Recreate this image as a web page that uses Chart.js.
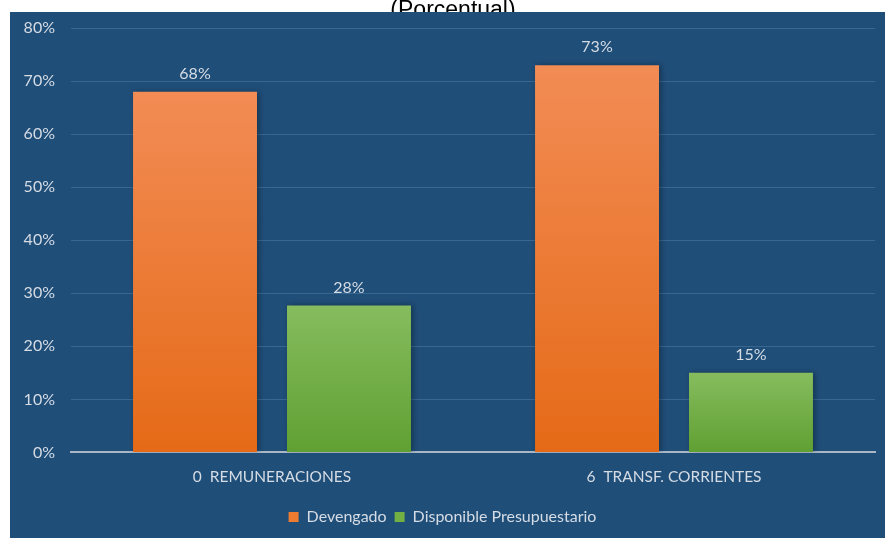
<!DOCTYPE html>
<html lang="es">
<head>
<meta charset="UTF-8">
<title>Devengado vs Disponible (Porcentual)</title>
<script src="https://cdn.jsdelivr.net/npm/chart.js"></script>
<style>
  html, body { margin: 0; padding: 0; background: #fff; }
  #wrap { width: 885px; height: 538px; }
</style>
</head>
<body>
<div id="wrap"><canvas id="chart" width="885" height="538"></canvas></div>
<script>
// data
const categories = ['0  REMUNERACIONES', '6  TRANSF. CORRIENTES'];
const devengado = [68, 73];
const disponible = [27.7, 15];
const seriesNames = ['Devengado', 'Disponible Presupuestario'];
const yTicks = [0, 10, 20, 30, 40, 50, 60, 70, 80];

const txt = '#D6DCE4';
const font = 'Lato, "Open Sans", sans-serif';

// per-bar vertical gradient (lighter at top)
function barGradient(top, bottom) {
  return function (c) {
    const chart = c.chart;
    if (!chart.chartArea || c.type !== 'data') return bottom;
    const y = chart.scales.y;
    const y0 = y.getPixelForValue(0);
    const y1 = y.getPixelForValue(c.raw);
    const g = chart.ctx.createLinearGradient(0, y1, 0, y0);
    g.addColorStop(0, top);
    g.addColorStop(1, bottom);
    return g;
  };
}

// white strip, cut-off subtitle, dark panel
const panel = {
  id: 'panel',
  beforeDraw(chart) {
    const ctx = chart.ctx;
    ctx.save();
    ctx.fillStyle = '#fff';
    ctx.fillRect(0, 0, chart.width, chart.height);
    ctx.fillStyle = '#000';
    ctx.font = '23px "Liberation Sans", Arial, sans-serif';
    ctx.textAlign = 'center';
    ctx.textBaseline = 'alphabetic';
    ctx.fillText('(Porcentual)', 453, 17);
    ctx.fillStyle = '#1F4E79';
    ctx.fillRect(10, 12, chart.width - 10, chart.height - 12);
    ctx.restore();
  }
};

// soft shadow behind bars
const shadow = {
  id: 'shadow',
  beforeDatasetsDraw(chart) {
    const ctx = chart.ctx;
    ctx.save();
    ctx.shadowColor = 'rgba(0,0,0,0.35)';
    ctx.shadowBlur = 6;
    ctx.shadowOffsetX = 2;
    ctx.shadowOffsetY = 0;
  },
  afterDatasetsDraw(chart) {
    chart.ctx.restore();
  }
};

// value labels above bars
const valueLabels = {
  id: 'valueLabels',
  afterDatasetsDraw(chart) {
    const ctx = chart.ctx;
    ctx.save();
    ctx.fillStyle = txt;
    ctx.font = '16px ' + font;
    ctx.textAlign = 'center';
    ctx.textBaseline = 'middle';
    chart.data.datasets.forEach((ds, i) => {
      chart.getDatasetMeta(i).data.forEach((bar, j) => {
        ctx.fillText(Math.round(ds.data[j]) + '%', bar.x, bar.y - 18);
      });
    });
    ctx.restore();
  }
};

new Chart(document.getElementById('chart'), {
  type: 'bar',
  data: {
    labels: categories,
    datasets: [
      {
        label: seriesNames[0],
        data: devengado,
        backgroundColor: barGradient('#F28C55', '#E56A17'),
        borderWidth: 0
      },
      {
        label: seriesNames[1],
        data: disponible,
        backgroundColor: barGradient('#86BC5E', '#60A032'),
        borderWidth: 0
      }
    ]
  },
  options: {
    responsive: false,
    animation: false,
    categoryPercentage: 0.766,
    barPercentage: 0.805,
    layout: { padding: { left: 10, right: 10, top: 28, bottom: 3 } },
    scales: {
      x: {
        grid: { display: false, drawTicks: false },
        border: { color: '#A9B7C6', width: 2 },
        ticks: { color: txt, font: { family: font, size: 15.5 }, padding: 15 }
      },
      y: {
        min: 0,
        max: 80,
        afterFit(s) { s.width = 61; },
        afterBuildTicks(s) { s.ticks = yTicks.map(v => ({ value: v })); },
        grid: { color: '#3A6790', lineWidth: 1, drawTicks: false },
        border: { display: false },
        ticks: {
          color: txt,
          font: { family: font, size: 16 },
          padding: 16,
          callback: v => v + '%'
        }
      }
    },
    plugins: {
      title: { display: false },
      tooltip: { enabled: false },
      legend: {
        position: 'bottom',
        labels: {
          color: txt,
          font: { family: font, size: 16 },
          boxWidth: 10,
          boxHeight: 10,
          padding: 8,
          generateLabels(chart) {
            const fills = ['#EE7C30', '#72B043'];
            return chart.data.datasets.map((ds, i) => ({
              text: ds.label,
              fillStyle: fills[i],
              strokeStyle: fills[i],
              lineWidth: 0,
              fontColor: txt,
              datasetIndex: i
            }));
          }
        }
      }
    }
  },
  plugins: [panel, shadow, valueLabels]
});
</script>
</body>
</html>
